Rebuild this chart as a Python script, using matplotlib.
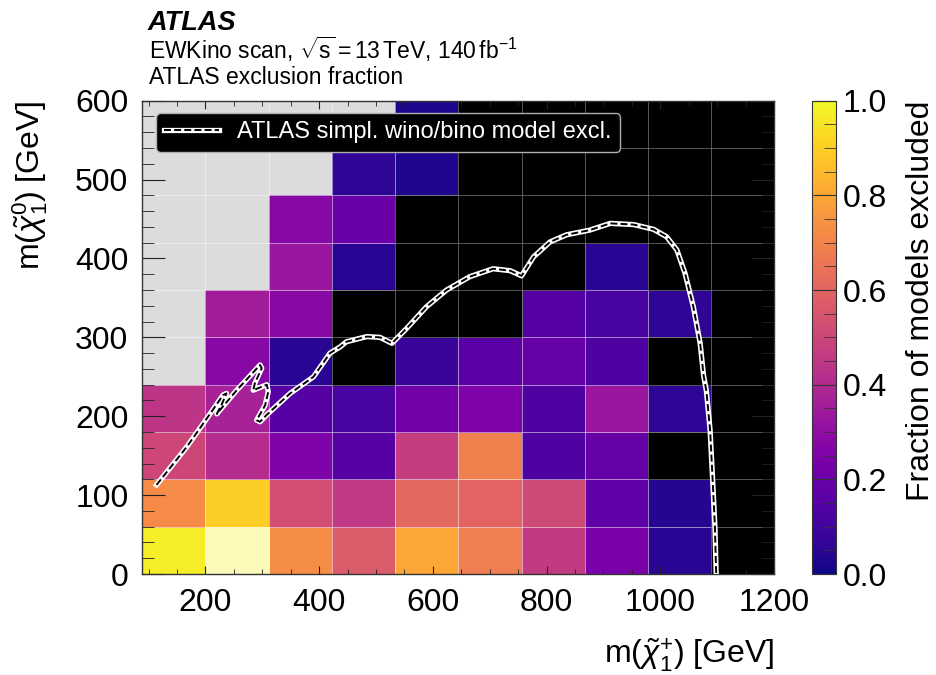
import numpy as np
import matplotlib
matplotlib.use('Agg')
import matplotlib.pyplot as plt
from matplotlib.colors import Normalize, ListedColormap
from matplotlib.ticker import MultipleLocator, FormatStrFormatter
from matplotlib.lines import Line2D

plt.rcParams['font.family'] = ['Liberation Sans', 'DejaVu Sans']
plt.rcParams['mathtext.fontset'] = 'custom'
plt.rcParams['mathtext.rm'] = 'Liberation Sans'
plt.rcParams['mathtext.it'] = 'Liberation Sans:italic'
plt.rcParams['mathtext.bf'] = 'Liberation Sans:bold'
plt.rcParams['lines.scale_dashes'] = False

# chargino mass bins (x) and neutralino mass bins (y), GeV
x_edges = [89, 200, 311, 422, 533, 644, 756, 867, 978, 1089, 1200]
y_edges = [0, 60, 120, 180, 240, 300, 360, 420, 480, 540, 600]

nan = np.nan
# fraction of models excluded, one row per y bin (bottom to top); nan = no models
frac = np.array([
    [0.97, 1.00, 0.73, 0.57, 0.80, 0.68, 0.46, 0.24, 0.05, 0.0],
    [0.72, 0.90, 0.53, 0.45, 0.61, 0.60, 0.51, 0.17, 0.04, 0.0],
    [0.50, 0.41, 0.25, 0.15, 0.47, 0.69, 0.13, 0.19, 0.0, 0.0],
    [0.44, 0.37, 0.15, 0.12, 0.22, 0.25, 0.13, 0.33, 0.06, 0.0],
    [nan, 0.28, 0.05, 0.0, 0.08, 0.16, 0.19, 0.13, 0.0, 0.0],
    [nan, 0.35, 0.28, 0.0, 0.0, 0.0, 0.15, 0.12, 0.06, 0.0],
    [nan, nan, 0.33, 0.05, 0.0, 0.0, 0.0, 0.05, 0.0, 0.0],
    [nan, nan, 0.28, 0.20, 0.0, 0.0, 0.0, 0.0, 0.0, 0.0],
    [nan, nan, nan, 0.06, 0.03, 0.0, 0.0, 0.0, 0.0, 0.0],
    [nan, nan, nan, nan, 0.02, 0.0, 0.0, 0.0, 0.0, 0.0],
])

# ATLAS simplified wino/bino exclusion contour
x_excl = [114, 167, 211, 231, 237, 228, 220, 228, 255, 296, 299, 287, 284, 308,
          310.5, 305, 290, 296, 308, 349, 390, 419, 437, 448, 484, 507, 528,
          554, 589, 624, 665, 706, 736, 756, 777, 806, 835, 876, 912, 953, 988,
          1011, 1029, 1043.5, 1058, 1070, 1076, 1081, 1087.5, 1092, 1096, 1098,
          1098.5]
y_excl = [113, 161, 206, 227, 229, 214, 203, 210, 233, 265, 261, 242, 233, 240,
          231, 214, 195, 193, 202, 229, 250, 280, 288, 294.5, 301, 300, 292.5,
          311.5, 339, 360, 377, 387, 384.5, 378, 402, 421, 430, 436, 444.5, 443,
          437, 427.6, 411, 381, 339, 292.5, 252, 232, 182.6, 119, 60, 5, 0]

fig = plt.figure(figsize=(9.37, 6.75), dpi=100)
ax = fig.add_axes([0.1519, 0.1496, 0.6742, 0.7012])
cax = fig.add_axes([0.8669, 0.1496, 0.025, 0.7012])

ax.set_facecolor('#dcdcdc')
edge = (1, 1, 1, 0.09)
data = np.ma.masked_invalid(frac)
mesh = ax.pcolormesh(x_edges, y_edges, data, cmap='plasma',
                     norm=Normalize(0, 1), edgecolors=edge, linewidth=0.7)
filled = np.nan_to_num(frac, nan=0.5)
ax.pcolormesh(x_edges, y_edges, np.ma.masked_where(filled != 0, frac),
              cmap=ListedColormap(['black']), edgecolors=(1, 1, 1, 0.2), linewidth=0.7)
ax.pcolormesh(x_edges, y_edges, np.ma.masked_where(filled < 1, frac),
              cmap=ListedColormap(['#fbfab9']), edgecolors=edge, linewidth=0.7)

ax.plot(x_excl, y_excl, color='white', lw=3.8, solid_joinstyle='round', zorder=3)
ax.plot(x_excl, y_excl, color='black', lw=1.4, dashes=(5, 2.3), zorder=4)

h_white = Line2D([], [], color='white', lw=3.8)
h_dash = Line2D([], [], color='black', lw=1.4, dashes=(5, 2.3))
leg = ax.legend([(h_white, h_dash)], ['ATLAS simpl. wino/bino model excl.'],
                loc='upper left', bbox_to_anchor=(0.0217, 0.974), borderaxespad=0,
                fontsize=17, facecolor='black', edgecolor='#b0b0b0', framealpha=1,
                fancybox=True, handlelength=2.3, borderpad=0.35, labelcolor='white')

ax.set_xlim(89, 1200)
ax.set_ylim(0, 600)
ax.xaxis.set_major_locator(MultipleLocator(200))
ax.xaxis.set_minor_locator(MultipleLocator(50))
ax.yaxis.set_major_locator(MultipleLocator(100))
ax.yaxis.set_minor_locator(MultipleLocator(20))
ax.tick_params(axis='both', which='both', direction='in', top=True, right=True,
               labelsize=23, color='#222222')
ax.tick_params(axis='x', which='major', length=6, pad=10)
ax.tick_params(axis='x', which='minor', length=3.5)
ax.tick_params(axis='y', which='major', length=16.5, pad=10)
ax.tick_params(axis='y', which='minor', length=8.5)
for s in ax.spines.values():
    s.set_color('#333333')
    s.set_linewidth(1.0)

ax.set_xlabel(r'm($\tilde{\chi}_1^{+}$) [GeV]', fontsize=23, loc='right')
ax.xaxis.set_label_coords(1.0, -0.133)
ax.set_ylabel(r'm($\tilde{\chi}_1^{0}$) [GeV]', fontsize=23, loc='top')
ax.yaxis.set_label_coords(-0.146, 1.0)

cb = fig.colorbar(mesh, cax=cax)
cb.set_ticks([0.0, 0.2, 0.4, 0.6, 0.8, 1.0])
cax.yaxis.set_minor_locator(MultipleLocator(0.05))
cax.yaxis.set_major_formatter(FormatStrFormatter('%.1f'))
cax.tick_params(which='major', direction='in', length=16.5, labelsize=23, pad=5,
                color='#333333')
cax.tick_params(which='minor', direction='in', length=8.5, color='#333333')
cb.outline.set_edgecolor('#333333')
cb.set_label('Fraction of models excluded', fontsize=23, loc='top')
cax.yaxis.set_label_coords(4.0, 1.0)

fig.text(0.158, 0.956, 'ATLAS', fontsize=19.5, fontweight='bold', style='italic',
         va='baseline')
fig.text(0.159, 0.913, r'EWKino scan, $\sqrt{\mathrm{s}}=13\,$TeV, 140$\,$fb$^{-1}$',
         fontsize=16.5, va='baseline')
fig.text(0.159, 0.876, 'ATLAS exclusion fraction', fontsize=16.5, va='baseline')

fig.savefig('out.png', dpi=100)
